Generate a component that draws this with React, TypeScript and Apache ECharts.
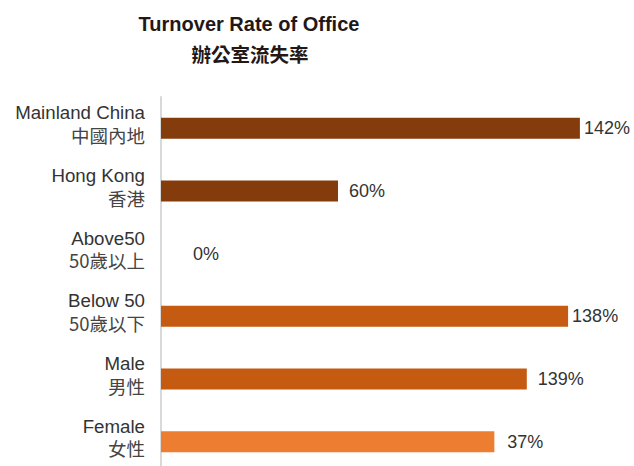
import React, { useEffect, useRef } from "react";
import * as echarts from "echarts";

const categoriesEn = ["Mainland China", "Hong Kong", "Above50", "Below 50", "Male", "Female"];
const categoriesCn = ["中國內地", "香港", "50歲以上", "50歲以下", "男性", "女性"];
// bar lengths as drawn in the picture (percent)
const barValues = [142, 60, 0, 138, 124, 113];
// printed value labels
const valueLabels = ["142%", "60%", "0%", "138%", "139%", "37%"];
const barColors = ["#843C0C", "#843C0C", "#843C0C", "#C55A11", "#C55A11", "#ED7D31"];
const labelDistances = [4, 11, 32, 4, 11, 13];

const titleText = "Turnover Rate of Office";
const subtitleText = "辦公室流失率";

export default function App() {
  const ref = useRef<HTMLDivElement>(null);
  useEffect(() => {
    if (!ref.current) return;
    const chart = echarts.init(ref.current, null, { renderer: "svg" });
    const cats = categoriesEn.map((e, i) => e + "\n" + categoriesCn[i]);
    chart.setOption({
      animation: false,
      backgroundColor: "#ffffff",
      graphic: [
        {
          type: "text",
          x: 249,
          y: 24,
          style: {
            text: titleText,
            fill: "#231815",
            font: "bold 20px 'Liberation Sans', Arial, sans-serif",
            textAlign: "center",
            textVerticalAlign: "middle",
          },
        },
        {
          type: "text",
          x: 250,
          y: 53,
          style: {
            text: subtitleText,
            fill: "#231815",
            font: "bold 19.5px 'Noto Sans CJK TC', sans-serif",
            textAlign: "center",
            textVerticalAlign: "middle",
          },
        },
      ],
      grid: { left: 161, right: 30.5, top: 97, bottom: 0, containLabel: false },
      xAxis: {
        type: "value",
        min: 0,
        max: 150,
        show: false,
      },
      yAxis: {
        type: "category",
        inverse: true,
        data: cats,
        axisLine: { show: true, lineStyle: { color: "#d9d9d9", width: 2 } },
        axisTick: { show: false },
        axisLabel: {
          margin: 16,
          padding: [0, 0, 9, 0],
          formatter: (v: string) => {
            const [en, cn] = v.split("\n");
            return "{en|" + en + "}\n{cn|" + cn + "}";
          },
          rich: {
            en: {
              fontFamily: "'Liberation Sans', Arial, sans-serif",
              fontSize: 18.7,
              color: "#333333",
              lineHeight: 22,
              align: "right",
            },
            cn: {
              fontFamily: "'Noto Sans CJK TC', sans-serif",
              fontSize: 18.5,
              color: "#444444",
              lineHeight: 22,
              align: "right",
            },
          },
        },
        splitLine: { show: false },
      },
      series: [
        {
          type: "bar",
          barWidth: 21,
          data: barValues.map((v, i) => ({
            value: v,
            itemStyle: { color: barColors[i] },
            label: {
              show: true,
              position: "right",
              distance: labelDistances[i],
              formatter: valueLabels[i],
              fontFamily: "'Liberation Sans', Arial, sans-serif",
              fontSize: 18,
              color: "#333333",
            },
          })),
        },
      ],
    });
    return () => chart.dispose();
  }, []);
  return (
    <div style={{ position: "fixed", left: 0, top: 0, width: 634, height: 466, overflow: "hidden", background: "#fff" }}>
      <div ref={ref} style={{ width: 634, height: 473 }} />
    </div>
  );
}
